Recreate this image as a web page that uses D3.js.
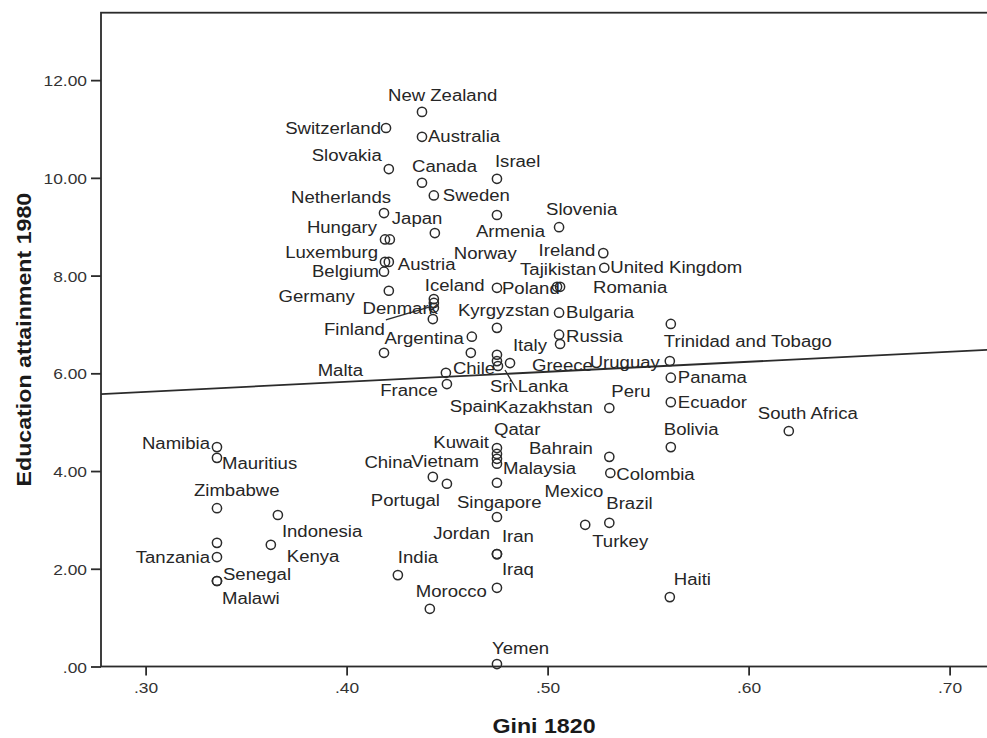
<!DOCTYPE html>
<html>
<head>
<meta charset="utf-8">
<script src="https://cdn.jsdelivr.net/npm/d3@7"></script>
<style>
  body { margin: 0; background: #fff; }
  svg { display: block; font-family: "Liberation Sans", Arial, sans-serif; }
</style>
</head>
<body>
<div id="chart"></div>
<script>
// Country labels ("" = point without a label)
const countries = [
  "New Zealand", "Switzerland", "Australia", "Slovakia", "Canada", "Israel", "Sweden",
  "Netherlands", "Armenia", "Slovenia", "Norway", "Hungary", "Japan", "Ireland",
  "Luxemburg", "Austria", "United Kingdom", "Belgium", "Tajikistan", "Romania", "Poland",
  "Germany", "Iceland", "", "Denmark", "Bulgaria", "Finland", "Trinidad and Tobago",
  "Kyrgyzstan", "Russia", "Argentina", "", "Malta", "Spain", "Italy", "Sri Lanka",
  "Uruguay", "Greece", "Kazakhstan", "Chile", "Panama", "France", "Ecuador", "Peru",
  "South Africa", "Namibia", "Bolivia", "Qatar", "Kuwait", "Mexico", "Mauritius",
  "Bahrain", "Vietnam", "Colombia", "China", "Malaysia", "Portugal", "Zimbabwe",
  "Indonesia", "Singapore", "Brazil", "Turkey", "", "Kenya", "Iran", "Jordan",
  "Tanzania", "India", "Senegal", "Malawi", "Iraq", "Haiti", "Morocco", "Yemen"
];

// Gini 1820 (x)
const gini = [
  .4375, .4196, .4375, .4210, .4375, .4748, .4434,
  .4186, .4748, .5057, .4439, .4191, .4215, .5277,
  .4191, .4210, .5282, .4186, .5047, .5062, .4748,
  .4210, .4434, .4434, .4434, .5057, .4429, .5613,
  .4748, .5057, .4623, .5062, .4186, .4618, .4748, .4748,
  .5608, .4813, .4753, .4494, .5613, .4499, .5613, .5307,
  .6200, .3355, .5613, .4748, .4748, .5307, .3355,
  .4748, .4748, .5312, .4429, .4748, .4499, .3355,
  .3658, .4748, .5307, .5187, .3355, .3623, .4748, .4748,
  .3355, .4255, .3355, .3355, .4748, .5608, .4414, .4748
];

// Education attainment 1980 (y)
const education = [
  11.35, 11.02, 10.84, 10.18, 9.90, 9.98, 9.64,
  9.28, 9.24, 8.99, 8.87, 8.74, 8.74, 8.46,
  8.28, 8.28, 8.16, 8.08, 7.77, 7.77, 7.75,
  7.69, 7.52, 7.44, 7.34, 7.24, 7.11, 7.01,
  6.93, 6.79, 6.75, 6.60, 6.42, 6.42, 6.38, 6.25,
  6.25, 6.21, 6.15, 6.01, 5.91, 5.78, 5.41, 5.29,
  4.82, 4.49, 4.49, 4.47, 4.35, 4.29, 4.27,
  4.25, 4.15, 3.96, 3.88, 3.76, 3.74, 3.24,
  3.10, 3.06, 2.94, 2.90, 2.53, 2.49, 2.30, 2.30,
  2.24, 1.87, 1.75, 1.75, 1.61, 1.42, 1.18, 0.05
];

const xTicks = [0.3, 0.4, 0.5, 0.6, 0.7];
const yTicks = [0, 2, 4, 6, 8, 10, 12];

// fit line as shown in the chart: education = intercept + slope * gini
const fitIntercept = 5.007;
const fitSlope = 2.049;

// label placement: [dx, dy, anchor] in px from the marker
const labelLayout = [
  [-34,-17,"start"], [-5,0,"end"], [6,0,"start"], [-7,-14,"end"], [-10,-16,"start"], [-2,-17,"start"], [9,0,"start"],
  [7,-16,"end"], [-21,16,"start"], [-13,-18,"start"], [19,20,"start"], [-8,-12,"end"], [2,-21,"start"], [-8,-3,"end"],
  [-7,-10,"end"], [9,2,"start"], [6,0,"start"], [-5,0,"end"], [-37,-17,"start"], [33,1,"start"], [5,1,"start"],
  [-34,6,"end"], [-9,-14,"start"], null, [4,1,"end"], [7,0,"start"], [-48,10,"end"], [-7,17,"start"],
  [-39,-17,"start"], [7,2,"start"], [-8,2,"end"], null, [-21,18,"end"], [-21,54,"start"], [16,-9,"start"], [-7,25,"start"],
  [-10,1,"end"], [22,2,"start"], [-2,41,"start"], [7,-4,"start"], [7,0,"start"], [-9,6,"end"], [7,0,"start"], [2,-17,"start"],
  [-31,-18,"start"], [-7,-4,"end"], [-7,-18,"start"], [-3,-19,"start"], [-8,-12,"end"], [-6,35,"end"], [5,6,"start"],
  [32,-10,"start"], [-18,-2,"end"], [6,1,"start"], [-20,-15,"end"], [6,-14,"start"], [-7,17,"end"], [-23,-18,"start"],
  [4,16,"start"], [-40,-15,"start"], [-3,-19,"start"], [7,17,"start"], null, [16,12,"start"], [5,-18,"start"], [-7,-21,"end"],
  [-7,0,"end"], [0,-18,"start"], [6,-7,"start"], [5,17,"start"], [5,-18,"start"], [4,-18,"start"], [-14,-17,"start"], [-5,-16,"start"]
];

// leader lines for displaced labels: [x1, y1, x2, y2] offsets from the marker
const leaders = { "Denmark": [-48, 12, -4, -1], "Kazakhstan": [7, 4, 19, 24] };

const W = 987, H = 738;
const margin = { top: 12.7, right: -3, bottom: 71.5, left: 101 };
const SX = 1.16; // horizontal stretch of the original text rendering

const data = countries.map((c, i) => ({ name: c, x: gini[i], y: education[i], lab: labelLayout[i] }));

const svg = d3.select("#chart").append("svg")
  .attr("width", W).attr("height", H);

const x = d3.scaleLinear().domain([0.2778, 0.7201]).range([margin.left, W - margin.right]);
const y = d3.scaleLinear().domain([0, 13.38]).range([H - margin.bottom, margin.top]);

const ink = "#2b2b2b";

// frame
svg.append("rect")
  .attr("x", x.range()[0]).attr("y", y.range()[1])
  .attr("width", x.range()[1] - x.range()[0]).attr("height", y.range()[0] - y.range()[1])
  .attr("fill", "none").attr("stroke", ink).attr("stroke-width", 1.8);

// y axis
const yAxis = svg.append("g")
  .attr("transform", `translate(${margin.left},0)`)
  .call(d3.axisLeft(y).tickValues(yTicks).tickSize(10).tickPadding(4)
    .tickFormat(d => d3.format(".2f")(d).replace(/^0\./, ".")));
yAxis.select(".domain").remove();
yAxis.selectAll("line").attr("stroke", ink).attr("stroke-width", 1.8);
yAxis.selectAll("text")
  .attr("fill", "#333").style("font-size", "15px")
  .attr("dy", null).attr("dominant-baseline", "central")
  .attr("transform", function () { const xx = +d3.select(this).attr("x"); return `translate(${xx},0) scale(${SX},1) translate(${-xx},0)`; });

// x axis
const xAxis = svg.append("g")
  .attr("transform", `translate(0,${H - margin.bottom})`)
  .call(d3.axisBottom(x).tickValues(xTicks).tickSize(9).tickPadding(7)
    .tickFormat(d => d3.format(".2f")(d).replace(/^0\./, ".")));
xAxis.select(".domain").remove();
xAxis.selectAll("line").attr("stroke", ink).attr("stroke-width", 1.8);
xAxis.selectAll(".tick text")
  .attr("fill", "#333").style("font-size", "15px")
  .attr("transform", `scale(${SX},1)`);

// fit line
const xd = x.domain();
svg.append("line")
  .attr("x1", x(xd[0])).attr("y1", y(fitIntercept + fitSlope * xd[0]))
  .attr("x2", x(xd[1])).attr("y2", y(fitIntercept + fitSlope * xd[1]))
  .attr("stroke", ink).attr("stroke-width", 1.8);

// leader lines
data.filter(d => leaders[d.name]).forEach(d => {
  const l = leaders[d.name];
  svg.append("line")
    .attr("x1", x(d.x) + l[0]).attr("y1", y(d.y) + l[1])
    .attr("x2", x(d.x) + l[2]).attr("y2", y(d.y) + l[3])
    .attr("stroke", ink).attr("stroke-width", 1.3);
});

// markers
svg.append("g").selectAll("circle")
  .data(data).join("circle")
  .attr("cx", d => x(d.x)).attr("cy", d => y(d.y))
  .attr("r", 4.6)
  .attr("fill", "none").attr("stroke", ink).attr("stroke-width", 1.5);

// point labels
svg.append("g").selectAll("text")
  .data(data.filter(d => d.name && d.lab)).join("text")
  .attr("transform", d => `translate(${x(d.x) + d.lab[0]},${y(d.y) + d.lab[1]}) scale(${SX},1)`)
  .attr("text-anchor", d => d.lab[2])
  .attr("dy", "0.35em")
  .attr("fill", "#262626")
  .style("font-size", "16px")
  .text(d => d.name);

// axis titles
svg.append("text")
  .attr("transform", `translate(${(x.range()[0] + 987) / 2},726) scale(${SX},1)`)
  .attr("text-anchor", "middle").attr("dy", "0.35em")
  .style("font-size", "20px").style("font-weight", "bold").attr("fill", "#1a1a1a")
  .text("Gini 1820");

svg.append("text")
  .attr("transform", `translate(24,${(y.range()[0] + y.range()[1]) / 2}) rotate(-90) scale(${SX},1)`)
  .attr("text-anchor", "middle").attr("dy", "0.35em")
  .style("font-size", "20px").style("font-weight", "bold").attr("fill", "#1a1a1a")
  .text("Education attainment 1980");
</script>
</body>
</html>
